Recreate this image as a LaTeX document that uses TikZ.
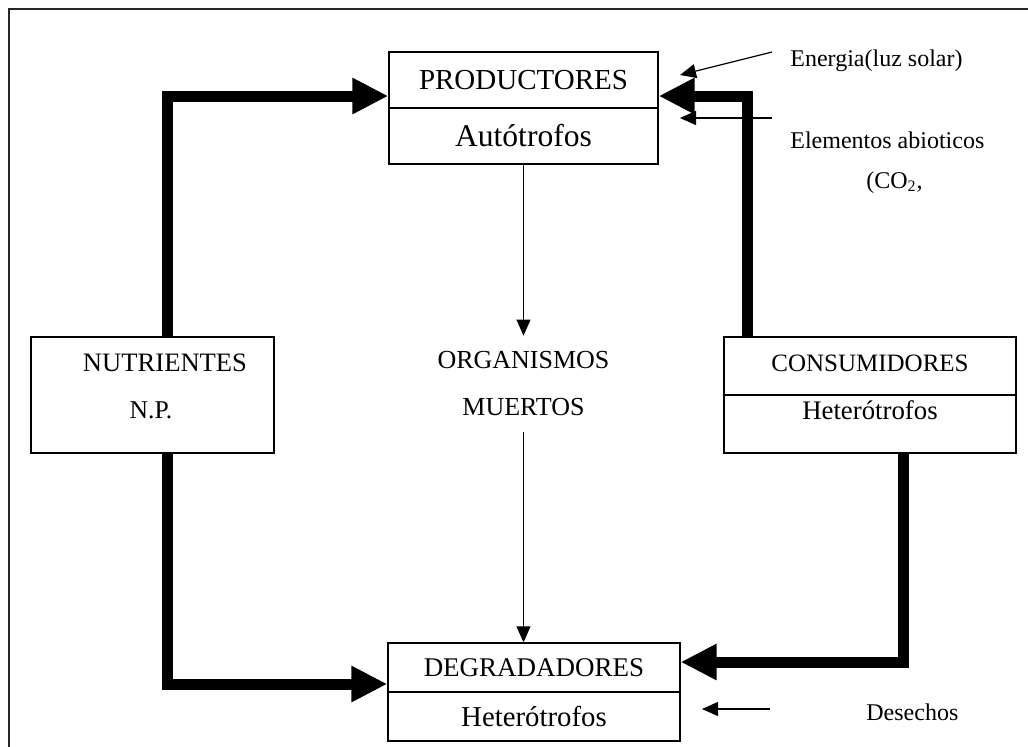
\documentclass[tikz,border=0pt]{standalone}
\usepackage{fontspec}
\setmainfont{Liberation Serif}
\usetikzlibrary{arrows.meta}

\begin{document}
\begin{tikzpicture}[
    x=0.5pt, y=-0.5pt,
    marco/.style={line width=1pt, black!85},
    caja/.style={draw, line width=0.7pt, inner sep=0pt},
    texto/.style={inner sep=0pt, font=\fontsize{12}{14}\selectfont},
    gruesa/.style={line width=5.5pt, -{Triangle[length=18pt, width=17pt]}},
    fina/.style={line width=0.6pt, -{Triangle[length=8pt, width=7pt]}}
]

    \clip (0,0) rectangle (1028,746);

    % --- MARCO ---
    \draw[marco] (9,760) -- (9,8.7) -- (1040,8.7);

    % --- PRODUCTORES ---
    \node[caja, minimum width=134.5pt, minimum height=28pt, font=\fontsize{14.5}{17}\selectfont]
        (prodA) at (523.5,80) {PRODUCTORES};
    \node[caja, minimum width=134.5pt, minimum height=28pt, font=\fontsize{15.8}{18}\selectfont]
        (prodB) at (523.5,136) {Autótrofos};

    % --- NUTRIENTES ---
    \node[caja, minimum width=121.5pt, minimum height=58pt] (nutr) at (152.5,395) {};
    \node[texto, font=\fontsize{13.3}{15}\selectfont] (nutrT1) at (165,363) {NUTRIENTES};
    \node[texto, font=\fontsize{12.8}{15}\selectfont] (nutrT2) at (151,410) {N.P.};

    % --- ORGANISMOS MUERTOS ---
    \node[inner sep=0pt, minimum height=48pt, align=center, font=\fontsize{13}{23.5}\selectfont]
        (muertos) at (523.5,384) {ORGANISMOS\\MUERTOS};

    % --- CONSUMIDORES ---
    \node[caja, minimum width=146pt, minimum height=58pt] (cons) at (870,395) {};
    \draw[line width=0.7pt] (cons.west) -- (cons.east);
    \node[texto, font=\fontsize{12.5}{15}\selectfont] (consT1) at (870,363) {CONSUMIDORES};
    \node[texto, font=\fontsize{13.4}{15}\selectfont] (consT2) at (870,410) {Heterótrofos};

    % --- DEGRADADORES ---
    \node[caja, minimum width=146pt, minimum height=24.5pt, font=\fontsize{13.5}{16}\selectfont]
        (degA) at (534,667.5) {DEGRADADORES};
    \node[caja, minimum width=146pt, minimum height=24.5pt, font=\fontsize{14.4}{17}\selectfont]
        (degB) at (534,716.5) {Heterótrofos};

    % --- FLUJOS GRUESOS ---
    \draw[gruesa] ([xshift=7.25pt]nutr.north) |- ([yshift=-8pt]prodA.west);
    \draw[gruesa] ([xshift=7.25pt]nutr.south) |- ([yshift=-8.25pt]degA.west);
    \draw[gruesa] ([xshift=-61.5pt]cons.north) |- ([yshift=-8pt]prodA.east);
    \draw[gruesa] ([xshift=16.75pt]cons.south) |- ([yshift=2.75pt]degA.east);

    % --- FLUJOS FINOS ---
    \draw[fina] (prodB) -- (muertos);
    \draw[fina] (muertos.south) -- (muertos.south |- degA.north);

    % --- ENTRADAS EXTERNAS ---
    \coordinate (solA) at (772,52);
    \coordinate (solB) at (680,75);
    \coordinate (abioA) at (772,118);
    \coordinate (abioB) at (680,118);
    \coordinate (desA) at (770,709);
    \coordinate (desB) at (702,709);
    \draw[fina] (solA) -- (solB);
    \draw[fina] (abioA) -- (abioB);
    \draw[fina] (desA) -- (desB);

    \node[texto, anchor=base west] (energia) at (790,66) {Energia(luz solar)};
    \node[texto, anchor=base west] (abioticos) at (790,148) {Elementos abioticos};
    \node[texto, anchor=base west] (co2) at (866,188) {(CO\textsubscript{2},};
    \node[texto, anchor=base west] (desechos) at (866,720) {Desechos};

\end{tikzpicture}
\end{document}
